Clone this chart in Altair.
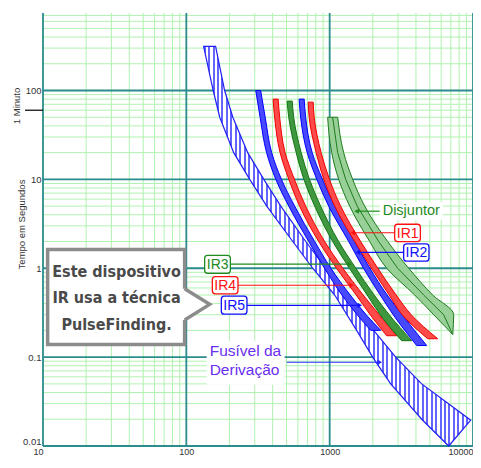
import altair as alt
import pandas as pd

# ---------------- data (current in A, time in s) ----------------
# Fuse band (Fusível da Derivação): time, minimum current, maximum current
fuse_t  = [314, 100, 50, 20, 10, 5, 2, 1, 0.5, 0.2, 0.1, 0.05, 0.0195, 0.01]
fuse_lo = [132, 154, 171, 214, 277, 364, 553, 762, 1084, 1543, 1995, 2665, 4456, 6770]
fuse_hi = [160, 185, 211, 268, 347, 456, 681, 939, 1314, 2028, 2887, 4385, 9636, 6770]

ir5_t  = [100, 50, 20, 10, 5, 2, 1, 0.5, 0.3, 0.2]
ir5_lo = [305, 327, 363, 421, 518, 714, 920, 1217, 1555, 1932]
ir5_hi = [330, 355, 394, 461, 570, 786, 1020, 1390, 1797, 2270]

ir4_t  = [80, 50, 20, 10, 5, 2, 1, 0.5, 0.3, 0.174]
ir4_lo = [403, 413, 451, 519, 617, 838, 1115, 1531, 1917, 2499]
ir4_hi = [437, 448, 489, 568, 680, 923, 1236, 1713, 2215, 2934]

ir3_t  = [76, 50, 20, 10, 5, 2, 1, 0.5, 0.3, 0.153]
ir3_lo = [505, 518, 584, 661, 786, 1049, 1374, 1826, 2251, 3180]
ir3_hi = [548, 561, 633, 723, 865, 1156, 1523, 2044, 2602, 3735]

ir2_t  = [80, 50, 20, 10, 5, 2, 1, 0.5, 0.3, 0.135]
ir2_lo = [612, 627, 697, 814, 984, 1357, 1721, 2251, 2774, 4047]
ir2_hi = [664, 680, 755, 891, 1084, 1494, 1908, 2519, 3206, 4752]

ir1_t  = [74, 50, 20, 10, 5, 2, 1, 0.5, 0.3, 0.161]
ir1_lo = [708, 719, 805, 911, 1084, 1494, 1957, 2602, 3206, 4829]
ir1_hi = [767, 780, 872, 997, 1193, 1646, 2169, 2911, 3705, 5670]

brk_t  = [50, 20, 10, 5, 2, 1, 0.5, 0.3, 0.18]
brk_lo = [968, 1033, 1156, 1379, 1902, 2499, 3918, 5318, 7218]
brk_hi = [1137, 1252, 1447, 1755, 2539, 3558, 5233, 7335, 7218]

# grid / tick values
major_x = [10, 100, 1000, 10000]
minor_x = [m * d for d in (10, 100, 1000) for m in range(2, 10)]
major_y = [0.01, 0.1, 1, 10, 100]
minor_y = [round(m * d, 4) for d in (0.01, 0.1, 1, 10) for m in range(2, 10)] + [200, 300, 400, 500, 600, 700]

# IR labels
ir_names  = ["IR1", "IR2", "IR3", "IR4", "IR5"]
ir_colors = ["#ff1010", "#1010ff", "#1f8a1f", "#ff1010", "#1010ff"]
lab_x  = [3502, 4027, 165.4, 186.6, 215.7]
lab_y  = [2.509, 1.509, 1.1125, 0.6442, 0.3826]
box_x1 = [2842, 3283, 134.2, 151.9, 175.5]
box_x2 = [4295, 4930, 202.8, 229.2, 264.8]
box_y1 = [3.129, 1.883, 1.398, 0.8054, 0.4845]
box_y2 = [1.995, 1.201, 0.8785, 0.5151, 0.3044]

# arrows: IR1..IR5, Disjuntor, Fusível
arr_from  = [2842, 3283, 202.8, 229.2, 264.8, 2234, 501]
arr_to    = [1449, 1570, 1381, 1426, 1622, 1543, 2234]
arr_y     = [2.509, 1.509, 1.1125, 0.6442, 0.3826, 4.387, 0.0876]
arr_color = ["#ff1010", "#1010ff", "#1f8a1f", "#ff1010", "#1010ff", "#1f8a1f", "#2a2aff"]
arr_shape = ["triangle-left", "triangle-left", "triangle-right", "triangle-right",
             "triangle-right", "triangle-left", "triangle-right"]

# callout
callout_lines = ["Este dispositivo", "IR usa a técnica", "PulseFinding."]
callout_y = [0.908, 0.457, 0.230]
callout_x = 32.6

fuse_lines = ["Fusível da", "Derivação"]
fuse_lab_y = [0.1159, 0.0715]
fuse_lab_x = 145.5

# ---------------- styling ----------------
FONT = "Liberation Sans, Arial, sans-serif"
COND = "Liberation Sans Narrow, DejaVu Sans Condensed, sans-serif"
TEAL = "#2a8c8c"
MINOR = "#b0f2b0"
HATCH = "#6464ff"

xs = alt.Scale(type="log", domain=[10, 10000], nice=False)
ys = alt.Scale(type="log", domain=[0.01, 745], nice=False)

AX = alt.Axis(values=major_x, format="~g", title=None, domain=False, ticks=False,
              grid=False, labelFontSize=9, labelColor="#333", labelFont=FONT,
              labelPadding=1, labelFlush=False,
              labelAlign={"condition": {"test": "datum.value == 100 || datum.value == 1000", "value": "center"},
                          "value": "right"})
AY = alt.Axis(values=major_y, format="~g", title="Tempo em Segundos", domain=False,
              ticks=False, grid=False, labelFontSize=9.5, labelColor="#333",
              labelFont=FONT, labelPadding=2,
              labelBaseline={"condition": {"test": "datum.value < 0.05", "value": "bottom"},
                             "value": "middle"},
              titleX=-17, titleY=211,
              titleAngle=270, titleBaseline="bottom", titleAlign="center",
              titleFontSize=9.5, titleFontWeight="normal", titleColor="#333",
              titleFont=FONT)


def xq(field):
    return alt.X(field, type="quantitative", scale=xs, axis=AX)


def yq(field):
    return alt.Y(field, type="quantitative", scale=ys, axis=AY)


layers = []

# grid
layers.append(alt.Chart(pd.DataFrame({"v": minor_x})).mark_rule(color=MINOR, strokeWidth=1).encode(x=xq("v")))
layers.append(alt.Chart(pd.DataFrame({"v": minor_y})).mark_rule(color=MINOR, strokeWidth=1).encode(y=yq("v")))
layers.append(alt.Chart(pd.DataFrame({"v": major_x})).mark_rule(color=TEAL, strokeWidth=1.8).encode(x=xq("v")))
layers.append(alt.Chart(pd.DataFrame({"v": major_y})).mark_rule(color=TEAL, strokeWidth=1.8).encode(y=yq("v")))

# white backgrounds of free-standing labels
bg_df = pd.DataFrame({"x1": [138.6, 2234], "x2": [485, 6145], "y1": [0.1532, 5.515], "y2": [0.04882, 3.491]})
layers.append(alt.Chart(bg_df).mark_rect(fill="white").encode(x=xq("x1"), x2="x2", y=yq("y1"), y2="y2"))

# fuse band with vertical hatching
stripe_n = 60
stops = []
for k in range(stripe_n):
    a = k / stripe_n
    b = (k + 0.45) / stripe_n
    c = (k + 1) / stripe_n
    stops += [{"offset": a, "color": HATCH}, {"offset": b, "color": HATCH},
              {"offset": b, "color": "#ffffff"}, {"offset": c, "color": "#ffffff"}]
hatch = {"gradient": "linear", "x1": 0, "y1": 0, "x2": 1, "y2": 0, "stops": stops}

fuse_df = pd.DataFrame({"t": fuse_t, "lo": fuse_lo, "hi": fuse_hi})
layers.append(alt.Chart(fuse_df).mark_area(orient="horizontal", fill=hatch, stroke="#2020f5",
                                           strokeWidth=1.2).encode(y=yq("t"), x=xq("lo"), x2="hi"))

bands = [
    (ir5_t, ir5_lo, ir5_hi, "#0000ff", "#4848ff"),
    (ir4_t, ir4_lo, ir4_hi, "#f00000", "#ff4a4a"),
    (ir3_t, ir3_lo, ir3_hi, "#157515", "#3f983f"),
    (ir2_t, ir2_lo, ir2_hi, "#0000ff", "#4848ff"),
    (ir1_t, ir1_lo, ir1_hi, "#f00000", "#ff4a4a"),
]
for t, lo, hi, sc, fc in bands:
    df = pd.DataFrame({"t": t, "lo": lo, "hi": hi})
    layers.append(alt.Chart(df).mark_area(orient="horizontal", interpolate="monotone", fill=fc,
                                          stroke=sc, strokeWidth=1).encode(
        y=yq("t"), x=xq("lo"), x2="hi"))

brk_df = pd.DataFrame({"t": brk_t, "lo": brk_lo, "hi": brk_hi})
layers.append(alt.Chart(brk_df).mark_area(orient="horizontal", interpolate="monotone", fill="#98d098",
                                          stroke="#1e7b1e", strokeWidth=1).encode(
    y=yq("t"), x=xq("lo"), x2="hi"))
layers.append(alt.Chart(brk_df).transform_calculate(mid="sqrt(datum.lo * datum.hi)").mark_line(
    color="#1e7b1e", strokeWidth=1).encode(y=yq("t"), x=xq("mid"), order="t:Q"))

# arrows
arr_df = pd.DataFrame({"x1": arr_from, "x2": arr_to, "y": arr_y, "c": arr_color, "s": arr_shape})
layers.append(alt.Chart(arr_df).mark_rule(strokeWidth=1.2).encode(
    x=xq("x1"), x2="x2", y=yq("y"), color=alt.Color("c:N", scale=None)))
layers.append(alt.Chart(arr_df).mark_point(filled=True, size=28, opacity=1).encode(
    x=xq("x2"), y=yq("y"), color=alt.Color("c:N", scale=None), shape=alt.Shape("s:N", scale=None)))

# IR label boxes
lab_df = pd.DataFrame({"name": ir_names, "c": ir_colors, "x": lab_x, "y": lab_y,
                       "x1": box_x1, "x2": box_x2, "y1": box_y1, "y2": box_y2})
layers.append(alt.Chart(lab_df).mark_rect(fill="white", strokeWidth=1.3, cornerRadius=3).encode(
    x=xq("x1"), x2="x2", y=yq("y1"), y2="y2", stroke=alt.Stroke("c:N", scale=None)))
layers.append(alt.Chart(lab_df).mark_text(font=FONT, fontSize=14, baseline="middle", dy=1).encode(
    x=xq("x"), y=yq("y"), text="name:N", color=alt.Color("c:N", scale=None)))

# Disjuntor and fuse labels
layers.append(alt.Chart(pd.DataFrame({"x": [2343], "y": [4.387], "txt": ["Disjuntor"]})).mark_text(
    font=FONT, fontSize=14.5, align="left", baseline="middle", color="#1f8a1f").encode(
    x=xq("x"), y=yq("y"), text="txt:N"))
layers.append(alt.Chart(pd.DataFrame({"x": [fuse_lab_x] * 2, "y": fuse_lab_y, "txt": fuse_lines})).mark_text(
    font=FONT, fontSize=15.5, align="left", baseline="middle", color="#6a2ef0").encode(
    x=xq("x"), y=yq("y"), text="txt:N"))

# callout
layers.append(alt.Chart(pd.DataFrame({"x1": [10.77], "x2": [97.3], "y1": [1.628], "y2": [0.1384]})).mark_rect(
    fill="white", stroke="#8c8c8c", strokeWidth=3.5).encode(x=xq("x1"), x2="x2", y=yq("y1"), y2="y2"))
layers.append(alt.Chart(pd.DataFrame({"x": [90, 97.3, 145.5], "y": [0.2614, 0.2614, 0.3924],
                                      "y2": [0.5894, 0.5894, 0.3924]})).mark_area(fill="white").encode(
    x=xq("x"), y=yq("y"), y2="y2"))
layers.append(alt.Chart(pd.DataFrame({"x": [97.3, 145.5, 97.3], "y": [0.5894, 0.3924, 0.2614],
                                      "o": [0, 1, 2]})).mark_line(
    color="#8c8c8c", strokeWidth=3.5, strokeJoin="miter").encode(x=xq("x"), y=yq("y"), order="o:Q"))
layers.append(alt.Chart(pd.DataFrame({"x": [callout_x] * 3, "y": callout_y, "txt": callout_lines})).mark_text(
    font=COND, fontWeight="bold", fontSize=16, color="#4a4a4a", align="center", baseline="middle").encode(
    x=xq("x"), y=yq("y"), text="txt:N"))

# 1 minute marker
layers.append(alt.Chart(pd.DataFrame({"t": [60]})).mark_rule(color="black", strokeWidth=1.2).encode(
    y=yq("t"), x=alt.value(-18), x2=alt.value(0)))
layers.append(alt.Chart(pd.DataFrame({"t": [67], "txt": ["1 Minuto"]})).mark_text(
    font=FONT, fontSize=9.5, color="#333", angle=270, align="center", baseline="bottom").encode(
    y=yq("t"), x=alt.value(-21), text="txt:N"))

chart = alt.layer(*layers).properties(
    width=430, height=433,
    padding={"left": 35, "top": 5, "right": 0, "bottom": 10},
    autosize=alt.AutoSizeParams(type="none"),
    background="white",
).configure_view(strokeWidth=0)

chart.save("out.html", embed_options={"renderer": "svg", "actions": False})
